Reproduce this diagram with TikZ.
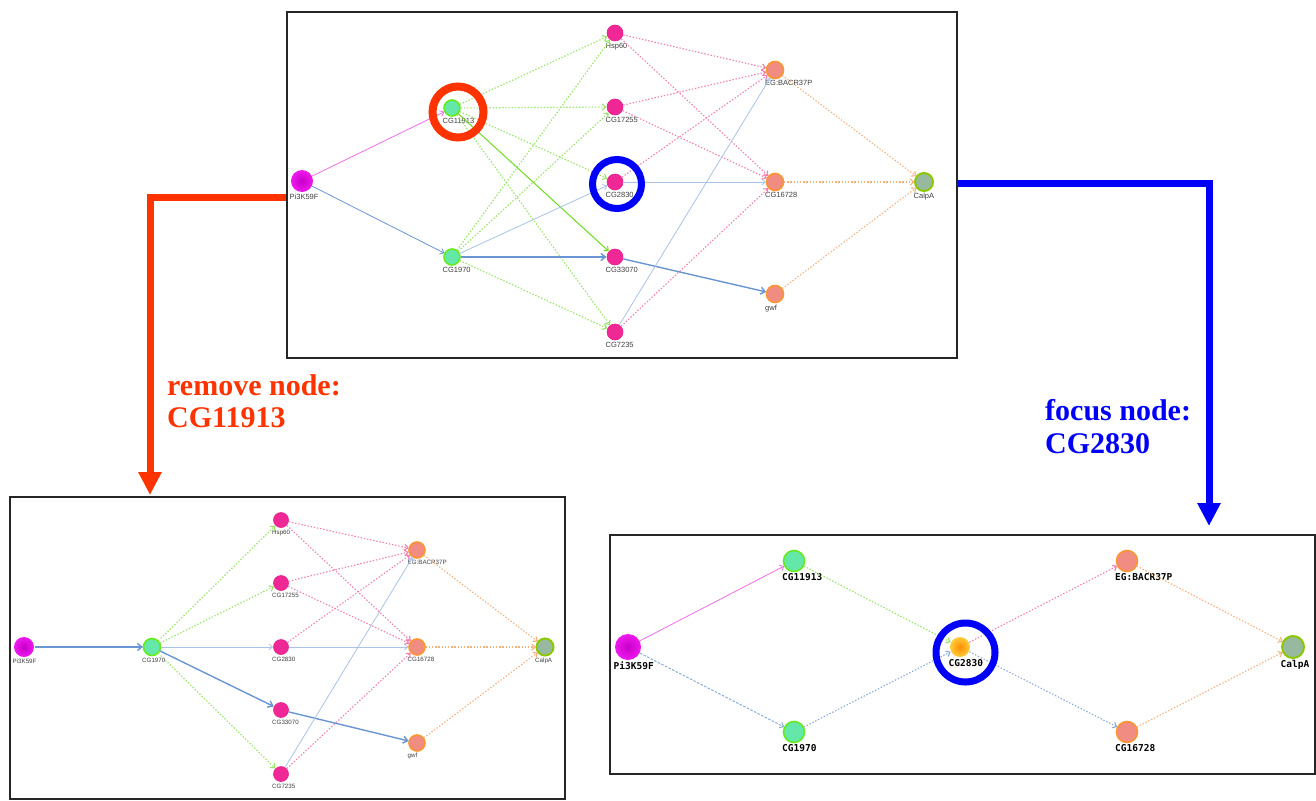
\documentclass[tikz,border=0pt]{standalone}
\usepackage{fontspec}
\setmainfont{Liberation Serif}
\newfontfamily\lsans{Liberation Sans}
\newfontfamily\dmono{DejaVu Sans Mono}
\usetikzlibrary{arrows.meta,calc}
\definecolor{pkF}{RGB}{240,40,150}
\definecolor{pkD}{RGB}{228,30,140}
\definecolor{mgF}{RGB}{238,25,238}
\definecolor{mgC}{RGB}{200,0,200}
\definecolor{grD}{RGB}{102,235,30}
\definecolor{grF}{RGB}{100,232,170}
\definecolor{orD}{RGB}{250,150,50}
\definecolor{orF}{RGB}{240,140,130}
\definecolor{caD}{RGB}{140,200,0}
\definecolor{caF}{RGB}{150,185,160}
\definecolor{fcD}{RGB}{255,205,60}
\definecolor{fcC}{RGB}{255,140,0}
\definecolor{ePink}{RGB}{240,110,235}
\definecolor{eBlue}{RGB}{105,150,210}
\definecolor{eBlueL}{RGB}{170,195,230}
\definecolor{eGreen}{RGB}{110,220,30}
\definecolor{dGreen}{RGB}{150,228,100}
\definecolor{dPink}{RGB}{242,125,175}
\definecolor{dOrange}{RGB}{245,175,125}
\definecolor{dBlue}{RGB}{140,170,215}
\definecolor{redA}{RGB}{255,51,0}
\definecolor{blueA}{RGB}{0,0,250}
\newcommand\gnode[6]{%
  \node[#2, minimum size=#3] (#1) at (#4) {};
  \node[#6, anchor=north west, xshift=-1pt, yshift=-1.5pt] (#1-l) at (#1.west |- #1.south) {#5};}
\begin{document}
\begin{tikzpicture}[x=1pt,y=-1pt,
  panel/.style={draw=black!85, line width=1.1pt, inner sep=0pt, fill=white},
  nd/.style={circle, inner sep=0pt, outer sep=0.5pt, line width=1.6pt},
  pk/.style={nd, fill=pkF, draw=pkD, line width=0.6pt},
  gr/.style={nd, fill=grF, draw=grD},
  orn/.style={nd, fill=orF, draw=orD},
  ca/.style={nd, fill=caF, draw=caD, line width=2pt},
  mg/.style={nd, inner color=mgC, outer color=mgF},
  fc/.style={nd, inner color=fcC, outer color=fcD},
  ltop/.style={font=\lsans\fontsize{7.5}{8}\selectfont, text=black!75, inner sep=0pt},
  lbl/.style={font=\lsans\fontsize{6.2}{6.5}\selectfont, text=black!75, inner sep=0pt},
  lbr/.style={font=\dmono\bfseries\fontsize{9.5}{10}\selectfont, text=black, inner sep=0pt},
  ed/.style={-{Straight Barb[length=3.5pt,width=6pt]}, line width=0.8pt},
  sP/.style={ed, draw=ePink},
  sB/.style={ed, draw=eBlue},
  sBt/.style={ed, draw=eBlue, line width=1.4pt, -{Straight Barb[length=4.5pt,width=7pt]}},
  sBl/.style={ed, draw=eBlueL},
  sG/.style={ed, draw=eGreen, line width=1pt},
  dt/.style={ed, dash pattern=on 1.4pt off 1.8pt, line width=1.1pt},
  dG/.style={dt, draw=dGreen},
  dP/.style={dt, draw=dPink},
  dO/.style={dt, draw=dOrange},
  dB/.style={dt, draw=dBlue},
  dBd/.style={ed, dash pattern=on 2.5pt off 1.5pt, line width=1pt, draw=dBlue},
  ring/.style={circle, inner sep=0pt, fill=none},
  bigtxt/.style={font=\bfseries\fontsize{30}{32}\selectfont, inner sep=0pt},
  bigR/.style={draw=redA, line width=7pt, -{Triangle[length=23pt,width=22pt]}},
  bigB/.style={draw=blueA, line width=7pt, -{Triangle[length=23pt,width=22pt]}}
]
\useasboundingbox (0,0) rectangle (1316,800);
\fill[white] (0,0) rectangle (1316,800);

% panels
\node[panel, minimum width=670pt, minimum height=346pt] (top) at (622,185) {};
\node[panel, minimum width=555pt, minimum height=302pt] (bl) at (287.5,648) {};
\node[panel, minimum width=705pt, minimum height=239pt] (br) at (962.5,654.5) {};

% ---------- top panel ----------
\gnode{t-pi}{mg}{22pt}{302,181}{Pi3K59F}{ltop}
\gnode{t-c11913}{gr}{16pt}{452,108}{CG11913}{ltop}
\gnode{t-c1970}{gr}{16pt}{452,257}{CG1970}{ltop}
\gnode{t-hsp}{pk}{16pt}{615,33}{Hsp60}{ltop}
\gnode{t-c17255}{pk}{16pt}{615,107}{CG17255}{ltop}
\gnode{t-c2830}{pk}{16pt}{615,182}{CG2830}{ltop}
\gnode{t-c33070}{pk}{16pt}{615,257}{CG33070}{ltop}
\gnode{t-c7235}{pk}{16pt}{615,332}{CG7235}{ltop}
\gnode{t-eg}{orn}{17pt}{775,70}{EG:BACR37P}{ltop}
\gnode{t-c16728}{orn}{17pt}{775,182}{CG16728}{ltop}
\gnode{t-gwf}{orn}{17pt}{775,294}{gwf}{ltop}
\gnode{t-calpa}{ca}{18pt}{924,182}{CalpA}{ltop}

\draw[dG] (t-c11913) -- (t-hsp);
\draw[dG] (t-c11913) -- (t-c17255);
\draw[dG] (t-c11913) -- (t-c2830);
\draw[dG] (t-c11913) -- (t-c7235);
\draw[dG] (t-c1970) -- (t-hsp);
\draw[dG] (t-c1970) -- (t-c17255);
\draw[dG] (t-c1970) -- (t-c7235);
\draw[dP] (t-hsp) -- (t-eg);
\draw[dP] (t-hsp) -- (t-c16728);
\draw[dP] (t-c17255) -- (t-eg);
\draw[dP] (t-c17255) -- (t-c16728);
\draw[dP] (t-c2830) -- (t-eg);
\draw[dP] (t-c7235) -- (t-c16728);
\draw[dO] (t-eg) -- (t-calpa);
\draw[dO] (t-c16728) -- (t-calpa);
\draw[dO] (t-gwf) -- (t-calpa);
\draw[sP] (t-pi) -- (t-c11913);
\draw[sB] (t-pi) -- (t-c1970);
\draw[sG] (t-c11913) -- (t-c33070);
\draw[sBt] (t-c1970) -- (t-c33070);
\draw[sBl] (t-c1970) -- (t-c2830);
\draw[sBl] (t-c2830) -- (t-c16728);
\draw[sBt] (t-c33070) -- (t-gwf);
\draw[sBl] (t-c7235) -- (t-eg);

\node[ring, draw=redA, line width=8pt, minimum size=51pt] (ringR) at (458,112) {};
\node[ring, draw=blueA, line width=7pt, minimum size=49pt] (ringB) at (617,184) {};

% ---------- bottom-left panel ----------
\gnode{l-pi}{mg}{20pt}{24,647}{Pi3K59F}{lbl}
\gnode{l-c1970}{gr}{17pt}{152,647}{CG1970}{lbl}
\gnode{l-hsp}{pk}{15pt}{281,520}{Hsp60}{lbl}
\gnode{l-c17255}{pk}{15pt}{281,583}{CG17255}{lbl}
\gnode{l-c2830}{pk}{15pt}{281,647}{CG2830}{lbl}
\gnode{l-c33070}{pk}{15pt}{281,710}{CG33070}{lbl}
\gnode{l-c7235}{pk}{15pt}{281,774}{CG7235}{lbl}
\gnode{l-eg}{orn}{16pt}{417,550}{EG:BACR37P}{lbl}
\gnode{l-c16728}{orn}{16pt}{417,647}{CG16728}{lbl}
\gnode{l-gwf}{orn}{16pt}{417,743}{gwf}{lbl}
\gnode{l-calpa}{ca}{17pt}{545,647}{CalpA}{lbl}

\draw[dG] (l-c1970) -- (l-hsp);
\draw[dG] (l-c1970) -- (l-c17255);
\draw[dG] (l-c1970) -- (l-c7235);
\draw[dP] (l-hsp) -- (l-eg);
\draw[dP] (l-hsp) -- (l-c16728);
\draw[dP] (l-c17255) -- (l-eg);
\draw[dP] (l-c17255) -- (l-c16728);
\draw[dP] (l-c2830) -- (l-eg);
\draw[dP] (l-c7235) -- (l-c16728);
\draw[dO] (l-eg) -- (l-calpa);
\draw[dO] (l-c16728) -- (l-calpa);
\draw[dO] (l-gwf) -- (l-calpa);
\draw[sBt] (l-pi) -- (l-c1970);
\draw[sBl] (l-c1970) -- (l-c2830);
\draw[sBt] (l-c1970) -- (l-c33070);
\draw[sBl] (l-c2830) -- (l-c16728);
\draw[sBt] (l-c33070) -- (l-gwf);
\draw[sBl] (l-c7235) -- (l-eg);

% ---------- bottom-right panel ----------
\gnode{r-pi}{mg}{26pt}{628,647}{Pi3K59F}{lbr}
\gnode{r-c11913}{gr}{21pt}{794,561}{CG11913}{lbr}
\gnode{r-c1970}{gr}{21pt}{794,732}{CG1970}{lbr}
\gnode{r-c2830}{fc}{20pt}{960,647}{CG2830}{lbr}
\gnode{r-eg}{orn}{21pt}{1127,561}{EG:BACR37P}{lbr}
\gnode{r-c16728}{orn}{21pt}{1127,732}{CG16728}{lbr}
\gnode{r-calpa}{ca}{22pt}{1293,647}{CalpA}{lbr}

\draw[sP] (r-pi) -- (r-c11913);
\draw[dBd] (r-pi) -- (r-c1970);
\draw[dG] (r-c11913) -- (r-c2830);
\draw[dB] (r-c1970) -- (r-c2830);
\draw[dP] (r-c2830) -- (r-eg);
\draw[dB] (r-c2830) -- (r-c16728);
\draw[dO] (r-eg) -- (r-calpa);
\draw[dO] (r-c16728) -- (r-calpa);

\node[ring, draw=blueA, line width=7pt, minimum size=59pt] (ringB2) at (965.5,652.5) {};

% ---------- transition arrows and texts ----------
\coordinate (ra0) at (287,197);
\coordinate (ra1) at (150,495);
\draw[bigR] (top.west |- ra0) -| (ra1);
\coordinate (ba0) at (957,183.5);
\coordinate (ba1) at (1209,526);
\draw[bigB] (top.east |- ba0) -| (ba1);

\node[bigtxt, text=redA, anchor=base west] (rm1) at (167,395) {remove node:};
\node[bigtxt, text=redA, anchor=base west] (rm2) at (167,427) {CG11913};
\node[bigtxt, text=blueA, anchor=base west] (fo1) at (1045,420) {focus node:};
\node[bigtxt, text=blueA, anchor=base west] (fo2) at (1045,453) {CG2830};
\end{tikzpicture}
\end{document}
